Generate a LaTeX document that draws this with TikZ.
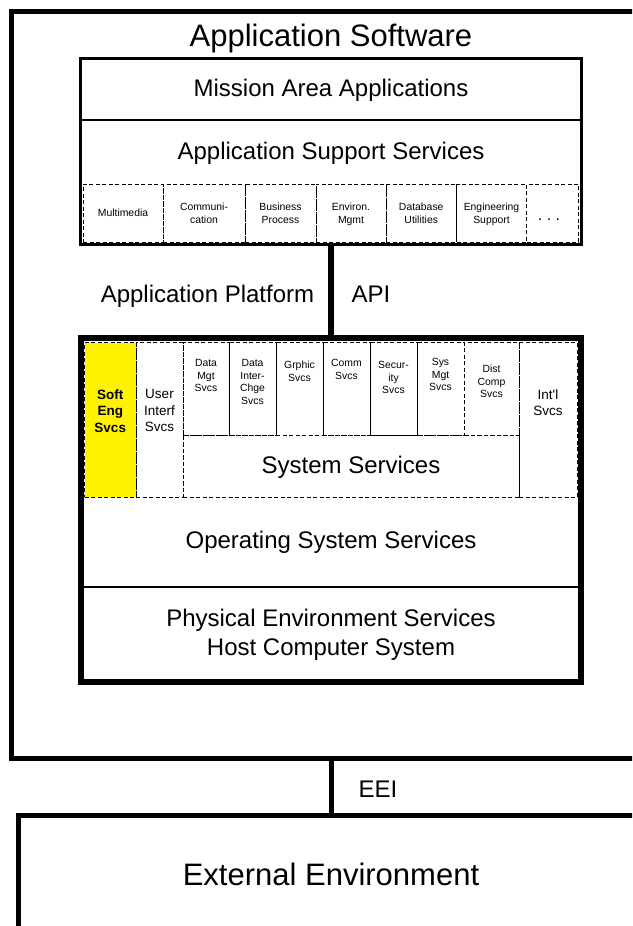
\documentclass[tikz,border=0pt]{standalone}
\usepackage{fontspec}
\setmainfont{Liberation Sans}
\usetikzlibrary{fit}
\begin{document}
\begin{tikzpicture}[x=1pt,y=-1pt,
  boxline/.style={draw, inner sep=0pt, outer sep=0pt},
  dcell/.style={draw, dash pattern=on 4pt off 2.5pt, line width=0.9pt, inner sep=0pt, outer sep=0pt},
  hugetxt/.style={font=\fontsize{31}{36}\selectfont, inner sep=0pt},
  bigtxt/.style={font=\fontsize{24}{29}\selectfont, inner sep=0pt, align=center},
  midtxt/.style={font=\fontsize{13.5}{16.5}\selectfont, inner sep=0pt, align=center},
  smalltxt/.style={font=\fontsize{10.4}{12.5}\selectfont, inner sep=0pt, align=center},
  dotstxt/.style={font=\fontsize{16}{18}\selectfont, inner sep=0pt},
]
\useasboundingbox (0,0) rectangle (632,926);
\clip (0,0) rectangle (632,926);
\fill[white] (0,0) rectangle (632,926);

% ---- application software enclosure
\node[boxline, line width=5pt, fit={(11,11) (652,758)}] (appsw) {};
\node[hugetxt, anchor=base] (title) at (331,46) {Application Software};

% ---- application layer
\node[boxline, line width=3pt, fit={(80.5,58) (581.5,244.5)}] (apps) {};
\node[bigtxt, anchor=base] (mission) at (331,96.5) {Mission Area Applications};
\draw[line width=2pt] (apps.west |- 0,119.5) -- (apps.east |- 0,119.5);
\node[bigtxt, anchor=base] (support) at (331,159) {Application Support Services};

% support service cells
\node[dcell, fit={(83,184) (163,242)}] (u1) {};
\node[dcell, fit={(163,184) (245,242)}] (u2) {};
\node[dcell, fit={(245,184) (316,242)}] (u3) {};
\node[dcell, fit={(316,184) (386,242)}] (u4) {};
\node[dcell, fit={(386,184) (456.5,242)}] (u5) {};
\node[dcell, fit={(456.5,184) (526.5,242)}] (u6) {};
\node[dcell, fit={(526.5,184) (578.5,242)}] (u7) {};
\node[smalltxt] (ut1) at (u1) {Multimedia};
\node[smalltxt, anchor=north] (ut2) at (u2.center |- 0,203.2) {Communi-\\cation};
\node[smalltxt, anchor=north] (ut3) at (u3.center |- 0,203.2) {Business\\Process};
\node[smalltxt, anchor=north] (ut4) at (u4.center |- 0,203.2) {Environ.\\Mgmt};
\node[smalltxt, anchor=north] (ut5) at (u5.center |- 0,203.2) {Database\\Utilities};
\node[smalltxt, anchor=north] (ut6) at (u6.center |- 0,203.2) {Engineering\\Support};
\node[dotstxt] (ut7) at (549,220) {.\ .\ .};

% ---- application platform
\node[dcell, fill=yellow, fit={(84.5,342.5) (136,497)}] (soft) {};
\node[dcell, fit={(136,342.5) (183,497)}] (user) {};
\node[dcell, fit={(183,342.5) (229,435)}] (s1) {};
\node[dcell, fit={(229,342.5) (276,435)}] (s2) {};
\node[dcell, fit={(276,342.5) (323,435)}] (s3) {};
\node[dcell, fit={(323,342.5) (370,435)}] (s4) {};
\node[dcell, fit={(370,342.5) (417,435)}] (s5) {};
\node[dcell, fit={(417,342.5) (464,435)}] (s6) {};
\node[dcell, fit={(464,342.5) (519,435)}] (s7) {};
\node[dcell, fit={(183,435) (519,497)}] (sys) {};
\node[dcell, fit={(519,342.5) (577,497)}] (intl) {};
\node[boxline, line width=6pt, fit={(80.5,338) (581,682)}] (plat) {};
\draw[line width=2pt] (plat.west |- 0,586.5) -- (plat.east |- 0,586.5);

\node[midtxt, anchor=north, font=\fontsize{13.5}{16.5}\selectfont\bfseries] (softt) at (soft.center |- 0,389.5) {Soft\\Eng\\Svcs};
\node[midtxt, anchor=north] (usert) at (user.center |- 0,389.5) {User\\Interf\\Svcs};
\node[midtxt, anchor=north] (intlt) at (intl.center |- 0,389.5) {Int\textquotesingle l\\Svcs};
\node[smalltxt, anchor=north] (st1) at (s1.center |- 0,359.3) {Data\\Mgt\\Svcs};
\node[smalltxt, anchor=north] (st2) at (s2.center |- 0,359.3) {Data\\Inter-\\Chge\\Svcs};
\node[smalltxt, anchor=north] (st3) at (s3.center |- 0,361) {Grphic\\Svcs};
\node[smalltxt, anchor=north] (st4) at (s4.center |- 0,359.3) {Comm\\Svcs};
\node[smalltxt, anchor=north] (st5) at (s5.center |- 0,361.5) {Secur-\\ity\\Svcs};
\node[smalltxt, anchor=north] (st6) at (s6.center |- 0,358.5) {Sys\\Mgt\\Svcs};
\node[smalltxt, anchor=north] (st7) at (s7.center |- 0,365) {Dist\\Comp\\Svcs};
\node[bigtxt, anchor=base] (syst) at (351,473) {System Services};
\node[bigtxt, anchor=base] (ost) at (331,548) {Operating System Services};
\node[bigtxt, anchor=base] (phys) at (331,626.5) {Physical Environment Services};
\node[bigtxt, anchor=base] (host) at (331,655.5) {Host Computer System};

% ---- API between the layers
\draw[line width=6pt] (apps.south) -- (apps.south |- plat.north);
\node[bigtxt, anchor=base] (aplat) at (207.5,302) {Application Platform};
\node[bigtxt, anchor=base] (api) at (371,302) {API};

% ---- external environment and EEI
\node[boxline, line width=5pt, fit={(18.5,815) (660,960)}] (ext) {};
\node[hugetxt, anchor=base] (extt) at (331,885) {External Environment};
\draw[line width=4.5pt] (appsw.south) -- (appsw.south |- ext.north);
\node[bigtxt, anchor=base] (eei) at (378,797) {EEI};
\end{tikzpicture}
\end{document}
